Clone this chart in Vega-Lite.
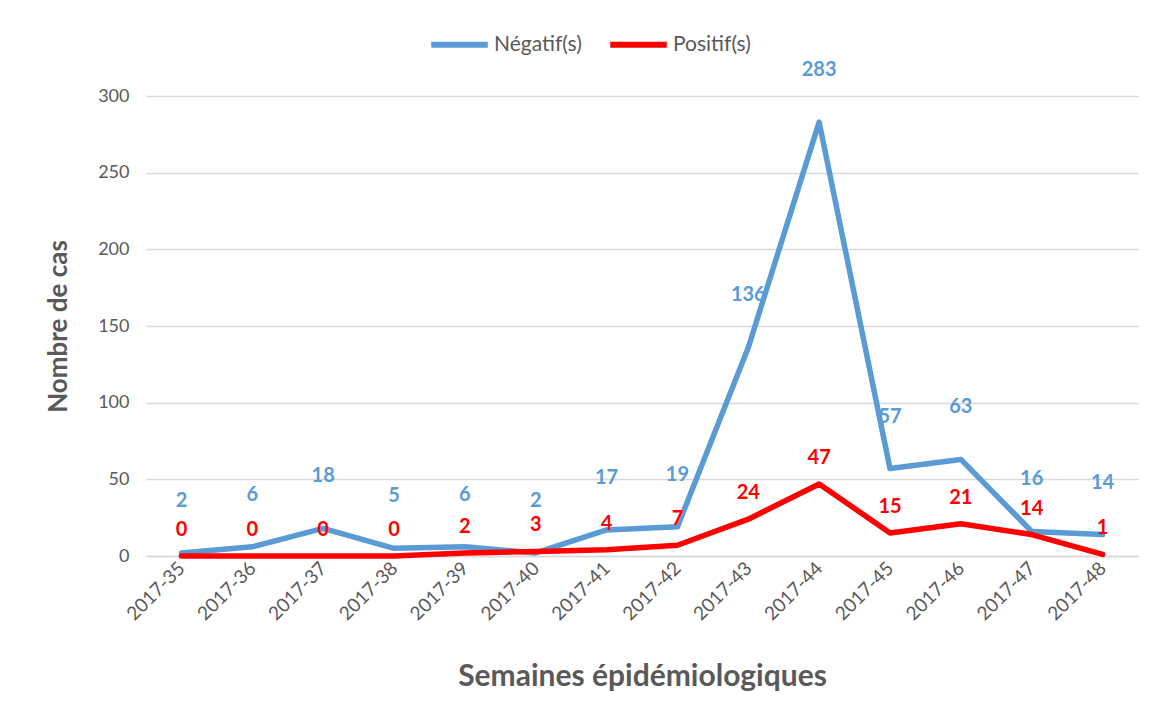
{
  "$schema": "https://vega.github.io/schema/vega-lite/v6.json",
  "width": 992,
  "height": 460,
  "autosize": {"type": "none"},
  "padding": {"left": 146, "top": 96, "right": 23, "bottom": 171},
  "background": "white",
  "config": {
    "font": "Lato",
    "view": {"stroke": null},
    "axis": {"labelColor": "#595959", "titleColor": "#595959", "labelFont": "Lato", "titleFont": "Lato"}
  },
  "data": {
    "values": [
      {"semaine": "2017-35", "serie": "Négatif(s)", "cas": 2},
      {"semaine": "2017-36", "serie": "Négatif(s)", "cas": 6},
      {"semaine": "2017-37", "serie": "Négatif(s)", "cas": 18},
      {"semaine": "2017-38", "serie": "Négatif(s)", "cas": 5},
      {"semaine": "2017-39", "serie": "Négatif(s)", "cas": 6},
      {"semaine": "2017-40", "serie": "Négatif(s)", "cas": 2},
      {"semaine": "2017-41", "serie": "Négatif(s)", "cas": 17},
      {"semaine": "2017-42", "serie": "Négatif(s)", "cas": 19},
      {"semaine": "2017-43", "serie": "Négatif(s)", "cas": 136},
      {"semaine": "2017-44", "serie": "Négatif(s)", "cas": 283},
      {"semaine": "2017-45", "serie": "Négatif(s)", "cas": 57},
      {"semaine": "2017-46", "serie": "Négatif(s)", "cas": 63},
      {"semaine": "2017-47", "serie": "Négatif(s)", "cas": 16},
      {"semaine": "2017-48", "serie": "Négatif(s)", "cas": 14},
      {"semaine": "2017-35", "serie": "Positif(s)", "cas": 0},
      {"semaine": "2017-36", "serie": "Positif(s)", "cas": 0},
      {"semaine": "2017-37", "serie": "Positif(s)", "cas": 0},
      {"semaine": "2017-38", "serie": "Positif(s)", "cas": 0},
      {"semaine": "2017-39", "serie": "Positif(s)", "cas": 2},
      {"semaine": "2017-40", "serie": "Positif(s)", "cas": 3},
      {"semaine": "2017-41", "serie": "Positif(s)", "cas": 4},
      {"semaine": "2017-42", "serie": "Positif(s)", "cas": 7},
      {"semaine": "2017-43", "serie": "Positif(s)", "cas": 24},
      {"semaine": "2017-44", "serie": "Positif(s)", "cas": 47},
      {"semaine": "2017-45", "serie": "Positif(s)", "cas": 15},
      {"semaine": "2017-46", "serie": "Positif(s)", "cas": 21},
      {"semaine": "2017-47", "serie": "Positif(s)", "cas": 14},
      {"semaine": "2017-48", "serie": "Positif(s)", "cas": 1}
    ]
  },
  "encoding": {
    "x": {
      "field": "semaine",
      "type": "ordinal",
      "scale": {"type": "point", "padding": 0.5},
      "axis": {
        "title": "Semaines épidémiologiques",
        "titleFontSize": 30,
        "titleFontWeight": "bold",
        "titlePadding": 38,
        "labelAngle": -45,
        "labelAlign": "right",
        "labelBaseline": "middle",
        "labelFontSize": 19,
        "labelPadding": 9,
        "ticks": false,
        "domainColor": "#d9d9d9",
        "domainWidth": 1.5,
        "grid": false
      }
    },
    "y": {
      "field": "cas",
      "type": "quantitative",
      "scale": {"domain": [0, 300]},
      "axis": {
        "title": "Nombre de cas",
        "titleFontSize": 26,
        "titleFontWeight": "bold",
        "titlePadding": 26,
        "values": [0, 50, 100, 150, 200, 250, 300],
        "labelFontSize": 18,
        "labelPadding": 17,
        "ticks": false,
        "domain": false,
        "gridColor": "#d9d9d9",
        "gridWidth": 1.5
      }
    },
    "color": {
      "field": "serie",
      "type": "nominal",
      "scale": {"domain": ["Négatif(s)", "Positif(s)"], "range": ["#5b9bd5", "#ff0000"]},
      "legend": {
        "title": null,
        "orient": "none",
        "direction": "horizontal",
        "legendX": 282,
        "legendY": -83,
        "symbolType": "stroke",
        "symbolSize": 3200,
        "symbolStrokeWidth": 6,
        "labelFontSize": 21,
        "labelColor": "#595959",
        "labelOffset": 3,
        "columnPadding": 16
      }
    }
  },
  "layer": [
    {
      "mark": {"type": "line", "strokeWidth": 5.5, "strokeCap": "round", "strokeJoin": "round"}
    },
    {
      "transform": [{"filter": "datum.serie === 'Négatif(s)'"}],
      "mark": {"type": "text", "dy": -52, "fontSize": 20, "fontWeight": "bold", "baseline": "middle"},
      "encoding": {"text": {"field": "cas", "type": "quantitative"}}
    },
    {
      "transform": [{"filter": "datum.serie === 'Positif(s)'"}],
      "mark": {"type": "text", "dy": -26, "fontSize": 20, "fontWeight": "bold", "baseline": "middle"},
      "encoding": {"text": {"field": "cas", "type": "quantitative"}}
    }
  ]
}
